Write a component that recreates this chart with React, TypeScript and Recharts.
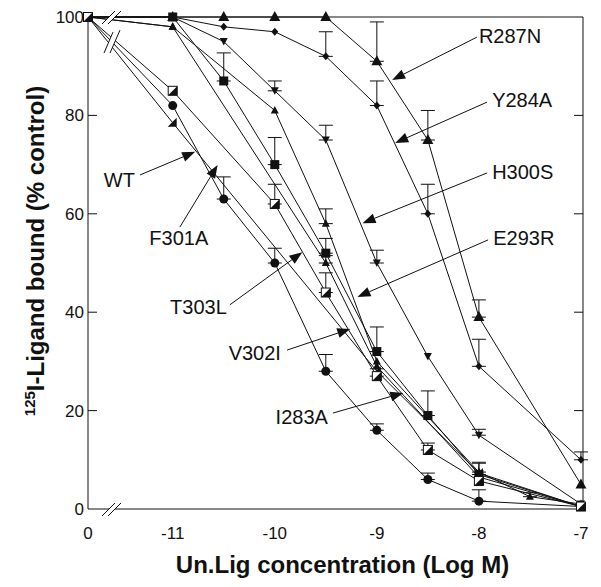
import React from 'react';
import { LineChart, Line, XAxis, YAxis, ErrorBar, ReferenceLine, ReferenceDot, Label } from 'recharts';

// ---------- data ----------
const conc = [0, -11, -10.5, -10, -9.5, -9, -8.5, -8, -7.5, -7];

const R287N = [100, 100, 100, 100, 100, 91, 75, 39, null, 5];
const Y284A = [100, 100, 98, 97, 92, 82, 60, 29, null, 10];
const H300S = [100, 100, 95, 85, 75, 50, 31, 15, null, 1];
const T303L = [100, 98, null, 81, 58, 30, null, 7.5, 2.5, 1];
const E293R = [100, 100, 87, 70, 52, 32, 19, 7, null, 0.5];
const V302I = [100, 85, null, 62, 44, 27, 12, 5.7, null, 0.5];
const I283A = [100, 82, 63, 50, 28, 16, 6, 1.6, null, 0.5];
const WT = [100, 78.5, null, null, null, 28, null, 7.3, null, 0.5];
const F301A = [100, 98, null, null, 50, 29, null, 6.5, null, 0.5];

const R287Nerr = [null, null, null, null, null, 8, 6, 3.5, null, null];
const Y284Aerr = [null, null, null, null, 5, 5, 6, 5.5, null, 1.6];
const H300Serr = [null, null, null, 2, 3, 2.6, null, 1.2, null, null];
const T303Lerr = [null, null, null, null, 3, null, null, 1.8, 0.8, null];
const E293Rerr = [null, null, 5.7, 5.5, 3, 5, 5, 2.5, null, null];
const V302Ierr = [null, null, null, 4, 4, 1.5, 1.4, null, null, null];
const I283Aerr = [null, null, 4.5, 3, 3.4, 1.3, 1.3, 2.3, null, null];
const WTerr = [null, null, null, null, null, null, null, null, null, null];
const F301Aerr = [null, null, null, null, 1.5, null, null, null, null, null];

const seriesKeys = ['R287N', 'Y284A', 'H300S', 'T303L', 'E293R', 'WT', 'F301A', 'I283A', 'V302I'];
const seriesValues = { R287N, Y284A, H300S, T303L, E293R, V302I, I283A, WT, F301A };
const seriesErrors = {
  R287N: R287Nerr, Y284A: Y284Aerr, H300S: H300Serr, T303L: T303Lerr, E293R: E293Rerr,
  V302I: V302Ierr, I283A: I283Aerr, WT: WTerr, F301A: F301Aerr,
};
const seriesMarker = {
  R287N: 'bigTri', Y284A: 'diamond', H300S: 'triDown', T303L: 'smallTri', E293R: 'square',
  V302I: 'halfSquare', I283A: 'circle', WT: 'halfTri', F301A: 'smallTri',
};

const yTicks = [0, 20, 40, 60, 80, 100];
const xTickValues = [-11, -10, -9, -8, -7];
const zeroLabel = '0';

// annotations (data units)
const annLabels = ['R287N', 'Y284A', 'H300S', 'E293R', 'WT', 'F301A', 'T303L', 'V302I', 'I283A'];
const annTextX = [-8.0, -7.87, -7.87, -7.86, -11.37, -10.94, -10.47, -9.94, -9.48];
const annTextY = [94.7, 81.7, 67.1, 53.7, 65.4, 53.7, 39.6, 30.3, 17.3];
const annAnchor = ['start', 'start', 'start', 'start', 'end', 'middle', 'end', 'end', 'end'];
const annFromX = [-8.02, -7.92, -7.92, -7.91, -11.32, -10.93, -10.44, -9.88, -9.43];
const annFromY = [95.9, 82.7, 68.3, 54.7, 67.9, 57.3, 41.5, 32.3, 19.5];
const annTipX = [-8.85, -8.82, -9.14, -9.19, -10.78, -10.56, -9.73, -9.26, -8.74];
const annTipY = [87.2, 74.4, 58.1, 43.1, 72.6, 69.9, 52.2, 36.6, 23.6];

// axis break
const X0 = -11.83; // axis position of the "0" concentration
const XMAX = -6.98;
const BREAK_X = -11.595;
const BREAK_BUNDLE_Y = 94.9;

const xTicks = [X0, ...xTickValues];

const FONT = 'Liberation Sans, Arial, Helvetica, sans-serif';
const INK = '#111';

const rows = conc.map((c, i) => {
  const row: any = { x: c === 0 ? X0 : c };
  seriesKeys.forEach((k) => {
    row[k] = seriesValues[k][i];
    const e = seriesErrors[k][i];
    if (e != null && seriesValues[k][i] != null) row[k + '_err'] = [0, e];
  });
  return row;
});

function marker(type: string, cx: number, cy: number, key: string) {
  switch (type) {
    case 'bigTri':
      return <polygon key={key} points={`${cx},${cy - 6} ${cx + 5.5},${cy + 4} ${cx - 5.5},${cy + 4}`} fill={INK} />;
    case 'diamond':
      return <polygon key={key} points={`${cx},${cy - 4} ${cx + 3.5},${cy} ${cx},${cy + 4} ${cx - 3.5},${cy}`} fill={INK} />;
    case 'triDown':
      return <polygon key={key} points={`${cx - 4},${cy - 3.5} ${cx + 4},${cy - 3.5} ${cx},${cy + 4}`} fill={INK} />;
    case 'smallTri':
      return <polygon key={key} points={`${cx},${cy - 4.5} ${cx + 4},${cy + 3} ${cx - 4},${cy + 3}`} fill={INK} />;
    case 'halfTri':
      return <polygon key={key} points={`${cx + 4},${cy - 5} ${cx + 4},${cy + 4} ${cx - 5},${cy + 4}`} fill={INK} />;
    case 'square':
      return <rect key={key} x={cx - 4.5} y={cy - 4.5} width={9} height={9} fill={INK} />;
    case 'halfSquare':
      return (
        <g key={key}>
          <rect x={cx - 4.5} y={cy - 4.5} width={9} height={9} fill="#fff" stroke={INK} strokeWidth={1} />
          <polygon points={`${cx + 4.5},${cy - 4.5} ${cx + 4.5},${cy + 4.5} ${cx - 4.5},${cy + 4.5}`} fill={INK} />
        </g>
      );
    case 'circle':
    default:
      return <circle key={key} cx={cx} cy={cy} r={4.5} fill={INK} />;
  }
}

const makeDot = (k: string) => (props: any) => {
  const { cx, cy, payload, index } = props;
  const key = `${k}-${index}`;
  if (cx == null || cy == null || payload[k] == null) return <g key={key} />;
  if (payload.x === X0 && seriesMarker[k] !== 'halfSquare') return <g key={key} />;
  return marker(seriesMarker[k], cx, cy, key);
};

const yTickShape = (p: any) => (
  <g>
    <line x1={p.x1} y1={p.y1} x2={p.x1 + 9} y2={p.y1} stroke={INK} strokeWidth={1} />
    <line x1={p.x2 - 9} y1={p.y2} x2={p.x2} y2={p.y2} stroke={INK} strokeWidth={1} />
  </g>
);

const xTickShape = (p: any) => {
  const top = Math.min(p.y1, p.y2);
  const bottom = Math.max(p.y1, p.y2);
  return (
    <g>
      <line x1={p.x1} y1={bottom} x2={p.x1} y2={bottom - 7} stroke={INK} strokeWidth={1} />
      <line x1={p.x1} y1={top} x2={p.x1} y2={top + 5} stroke="#2b3a9a" strokeWidth={1} />
    </g>
  );
};

const axisBreak = (p: any) => {
  const { cx, cy } = p;
  return (
    <g>
      <polygon points={`${cx - 10},${cy + 7} ${cx + 3},${cy - 6} ${cx + 9},${cy - 6} ${cx - 4},${cy + 7}`} fill="#fff" />
      <line x1={cx - 10} y1={cy + 7} x2={cx + 3} y2={cy - 6} stroke={INK} strokeWidth={1} />
      <line x1={cx - 4} y1={cy + 7} x2={cx + 9} y2={cy - 6} stroke={INK} strokeWidth={1} />
    </g>
  );
};

const bundleBreak = (p: any) => {
  const { cx, cy } = p;
  return (
    <g>
      <polygon points={`${cx - 8},${cy + 11} ${cx + 1},${cy - 10} ${cx + 8},${cy - 12} ${cx - 2},${cy + 11}`} fill="#fff" />
      <line x1={cx - 8} y1={cy + 11} x2={cx + 1} y2={cy - 10} stroke={INK} strokeWidth={1} />
      <line x1={cx - 2} y1={cy + 11} x2={cx + 8} y2={cy - 12} stroke={INK} strokeWidth={1} />
    </g>
  );
};

const arrowShape = (p: any) => {
  const { x1, y1, x2, y2 } = p;
  const dx = x2 - x1;
  const dy = y2 - y1;
  const len = Math.sqrt(dx * dx + dy * dy) || 1;
  const ux = dx / len;
  const uy = dy / len;
  const L = 13;
  const W = 5;
  const bx = x2 - ux * L;
  const by = y2 - uy * L;
  const px = -uy * W;
  const py = ux * W;
  return (
    <g>
      <line x1={x1} y1={y1} x2={bx} y2={by} stroke={INK} strokeWidth={1} />
      <polygon points={`${x2},${y2} ${bx + px},${by + py} ${bx - px},${by - py}`} fill={INK} />
    </g>
  );
};

const makeTextShape = (text: string, anchor: string) => (p: any) => (
  <text x={p.cx} y={p.cy} textAnchor={anchor} fontSize={20} fontFamily={FONT} fill={INK}>
    {text}
  </text>
);

const renderYLabel = (props: any) => {
  const vb = props.viewBox || { x: 28, y: 17, width: 60, height: 492 };
  const cx = vb.x + 16;
  const cy = vb.y + vb.height / 2 - 12;
  return (
    <text
      x={cx}
      y={cy}
      transform={`rotate(-90, ${cx}, ${cy})`}
      textAnchor="middle"
      fontSize={24}
      fontWeight="bold"
      fontFamily={FONT}
      fill={INK}
    >
      <tspan fontSize={15} dy={-9}>125</tspan>
      <tspan dy={9}>I-Ligand bound (% control)</tspan>
    </text>
  );
};

const renderXLabel = (props: any) => {
  const vb = props.viewBox || { x: 88, y: 509, width: 495, height: 40 };
  return (
    <text
      x={vb.x + vb.width / 2 + 7}
      y={vb.y + 64}
      textAnchor="middle"
      fontSize={24}
      fontWeight="bold"
      fontFamily={FONT}
      fill={INK}
    >
      Un.Lig concentration (Log M)
    </text>
  );
};

export default function App() {
  return (
    <div style={{ position: 'absolute', left: 0, top: 0, background: '#fff' }}>
      <LineChart width={601} height={587} data={rows} margin={{ top: 17, right: 18, bottom: 38, left: 28 }}>
        <XAxis
          dataKey="x"
          type="number"
          domain={[X0, XMAX]}
          ticks={xTicks}
          tickFormatter={(v: number) => (v === X0 ? zeroLabel : String(v))}
          tickSize={0}
          tickMargin={18}
          height={40}
          axisLine={{ stroke: INK, strokeWidth: 1 }}
          tick={{ fill: INK, fontSize: 17, fontFamily: FONT }}
          interval={0}
        >
          <Label content={renderXLabel} />
        </XAxis>
        <YAxis
          type="number"
          domain={[0, 100]}
          ticks={yTicks}
          tickSize={0}
          tickMargin={4}
          width={60}
          axisLine={{ stroke: INK, strokeWidth: 1 }}
          tick={{ fill: INK, fontSize: 17, fontFamily: FONT }}
          interval={0}
        >
          <Label content={renderYLabel} />
        </YAxis>

        <ReferenceLine y={100} stroke={INK} strokeWidth={1} />
        <ReferenceLine x={XMAX} stroke={INK} strokeWidth={1} />
        {yTicks.filter((v) => v > 0 && v < 100).map((v) => (
          <ReferenceLine key={`yt${v}`} y={v} shape={yTickShape} />
        ))}
        {xTickValues.filter((v) => v > -7).map((v) => (
          <ReferenceLine key={`xt${v}`} x={v} shape={xTickShape} />
        ))}

        {seriesKeys.map((k) => (
          <Line
            key={k}
            dataKey={k}
            type="linear"
            stroke={INK}
            strokeWidth={1}
            connectNulls
            dot={makeDot(k)}
            activeDot={false}
            isAnimationActive={false}
          >
            <ErrorBar dataKey={k + '_err'} width={7} stroke={INK} strokeWidth={1} direction="y" />
          </Line>
        ))}

        <ReferenceDot x={BREAK_X} y={0} ifOverflow="visible" shape={axisBreak} />
        <ReferenceDot x={BREAK_X} y={100} ifOverflow="visible" shape={axisBreak} />
        <ReferenceDot x={BREAK_X} y={BREAK_BUNDLE_Y} ifOverflow="visible" shape={bundleBreak} />

        {annLabels.map((t, i) => (
          <ReferenceLine
            key={`ar${t}`}
            ifOverflow="visible"
            segment={[
              { x: annFromX[i], y: annFromY[i] },
              { x: annTipX[i], y: annTipY[i] },
            ]}
            shape={arrowShape}
          />
        ))}
        {annLabels.map((t, i) => (
          <ReferenceDot
            key={`tx${t}`}
            x={annTextX[i]}
            y={annTextY[i]}
            ifOverflow="visible"
            shape={makeTextShape(t, annAnchor[i])}
          />
        ))}
      </LineChart>
    </div>
  );
}
